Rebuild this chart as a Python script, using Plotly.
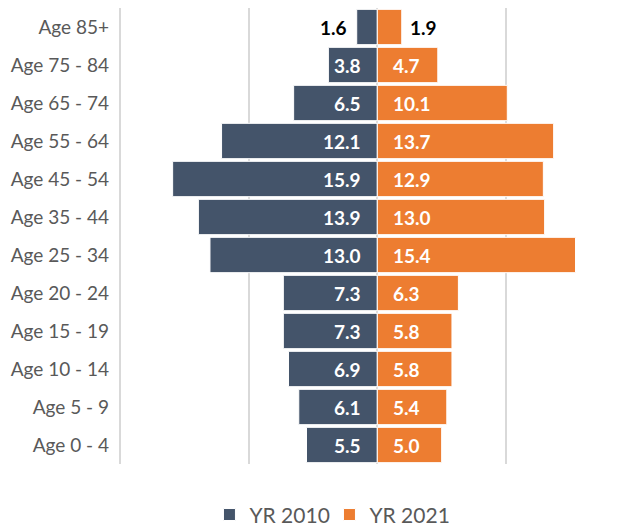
import plotly.graph_objects as go

# Age groups, top to bottom
age_groups = ["Age 85+", "Age 75 - 84", "Age 65 - 74", "Age 55 - 64", "Age 45 - 54",
              "Age 35 - 44", "Age 25 - 34", "Age 20 - 24", "Age 15 - 19",
              "Age 10 - 14", "Age 5 - 9", "Age 0 - 4"]
# Share of population (%) per age group
yr_2010 = [1.6, 3.8, 6.5, 12.1, 15.9, 13.9, 13.0, 7.3, 7.3, 6.9, 6.1, 5.5]
yr_2021 = [1.9, 4.7, 10.1, 13.7, 12.9, 13.0, 15.4, 6.3, 5.8, 5.8, 5.4, 5.0]

BLUE = "#44546A"
ORANGE = "#ED7D31"
FONT = "Lato"
SMALL = 2.5  # bars narrower than this get their label outside

fig = go.Figure()
fig.add_trace(go.Bar(
    name="YR 2010", y=age_groups, x=[-v for v in yr_2010], orientation="h",
    marker=dict(color=BLUE, line=dict(color="white", width=1)),
    hoverinfo="skip",
))
fig.add_trace(go.Bar(
    name="YR 2021", y=age_groups, x=yr_2021, orientation="h",
    marker=dict(color=ORANGE, line=dict(color="white", width=1)),
    hoverinfo="skip",
))

# Value labels: near the centre line inside the bar, or past the end of small bars
annotations = []
for cat, v in zip(age_groups, yr_2010):
    outside = v < SMALL
    annotations.append(dict(
        x=-v if outside else 0, y=cat, xref="x", yref="y",
        text=f"{v:.1f}", showarrow=False, xanchor="right",
        xshift=-8 if outside else -14,
        font=dict(family=FONT, size=19, weight="bold",
                  color="#000000" if outside else "#FFFFFF"),
    ))
for cat, v in zip(age_groups, yr_2021):
    outside = v < SMALL
    annotations.append(dict(
        x=v if outside else 0, y=cat, xref="x", yref="y",
        text=f"{v:.1f}", showarrow=False, xanchor="left",
        xshift=6 if outside else 14,
        font=dict(family=FONT, size=19, weight="bold",
                  color="#000000" if outside else "#FFFFFF"),
    ))

fig.update_layout(
    width=629, height=527,
    margin=dict(l=116, r=20, t=8, b=63),
    paper_bgcolor="white", plot_bgcolor="white",
    barmode="overlay", bargap=0.07,
    font=dict(family=FONT, size=19, color="#595959"),
    annotations=annotations,
    showlegend=True,
    legend=dict(orientation="h", xref="container", x=0.333, xanchor="left",
                yref="container", y=0.023, yanchor="middle",
                font=dict(family=FONT, size=21, color="#595959"),
                itemwidth=30, entrywidth=75, traceorder="normal"),
)
fig.update_xaxes(range=[-20.3, 18], tickvals=[-20, -10, 0, 10, 20], showticklabels=False,
                 showgrid=True, gridcolor="#D9D9D9", gridwidth=1.5,
                 zeroline=True, zerolinecolor="#D9D9D9", zerolinewidth=2,
                 showline=False, fixedrange=True)
fig.update_yaxes(autorange="reversed", showgrid=False, showline=False, zeroline=False,
                 ticks="", ticklabelstandoff=6,
                 tickfont=dict(family=FONT, size=19, color="#595959"), fixedrange=True)

fig.write_html("out.html")
